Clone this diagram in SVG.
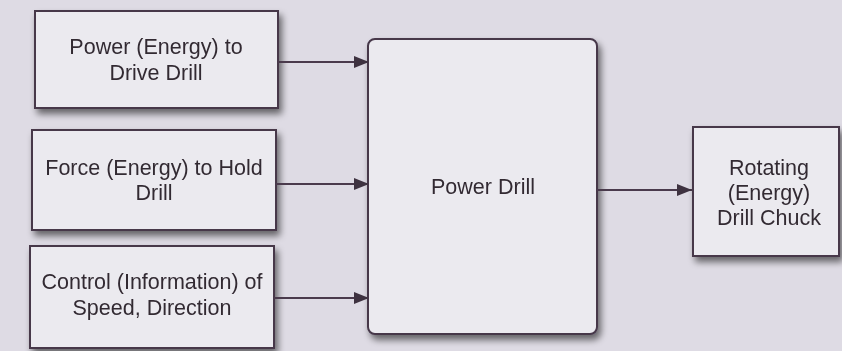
<svg xmlns="http://www.w3.org/2000/svg" width="842" height="351" viewBox="0 0 842 351">
<defs>
<filter id="sh" x="-10%" y="-10%" width="125%" height="130%">
<feGaussianBlur in="SourceAlpha" stdDeviation="3.5"/>
<feOffset dx="3" dy="5" result="b"/>
<feComponentTransfer><feFuncA type="linear" slope="0.55"/></feComponentTransfer>
<feMerge><feMergeNode/><feMergeNode in="SourceGraphic"/></feMerge>
</filter>
<marker id="ah" viewBox="0 0 15 12" refX="15" refY="6" markerWidth="15" markerHeight="12" markerUnits="userSpaceOnUse" orient="auto">
<path d="M0,0 L15,6 L0,12 Z" fill="#3e3240"/>
</marker>
</defs>
<style>
.box{fill:#ebeaef;stroke:#46384a;stroke-width:2}
.t{font-family:"Liberation Sans",Arial,sans-serif;font-size:21.5px;fill:#332b33;text-anchor:middle}
.c{stroke:#4a3a4c;stroke-width:2;fill:none;marker-end:url(#ah)}
</style>
<rect width="842" height="351" fill="#dedbe4"/>
<g id="n1" filter="url(#sh)">
<rect class="box" x="35" y="11" width="243" height="97"/>
<text class="t" x="156" y="54">Power (Energy) to</text>
<text class="t" x="156" y="80">Drive Drill</text>
</g>
<g id="n2" filter="url(#sh)">
<rect class="box" x="32" y="130" width="244" height="100"/>
<text class="t" x="154" y="175">Force (Energy) to Hold</text>
<text class="t" x="154" y="200">Drill</text>
</g>
<g id="n3" filter="url(#sh)">
<rect class="box" x="30" y="246" width="244" height="102"/>
<text class="t" x="152" y="289">Control (Information) of</text>
<text class="t" x="152" y="315">Speed, Direction</text>
</g>
<g id="n4" filter="url(#sh)">
<rect class="box" x="368" y="39" width="229" height="295" rx="7"/>
<text class="t" x="483" y="194">Power Drill</text>
</g>
<g id="n5" filter="url(#sh)">
<rect class="box" x="693" y="127" width="146" height="129"/>
<text class="t" x="769" y="175">Rotating</text>
<text class="t" x="769" y="200">(Energy)</text>
<text class="t" x="769" y="225">Drill Chuck</text>
</g>
<g id="connectors">
<line class="c" x1="278" y1="62" x2="369" y2="62"/>
<line class="c" x1="276" y1="184" x2="369" y2="184"/>
<line class="c" x1="274" y1="298" x2="369" y2="298"/>
<line class="c" x1="597" y1="190" x2="692" y2="190"/>
</g>
</svg>
